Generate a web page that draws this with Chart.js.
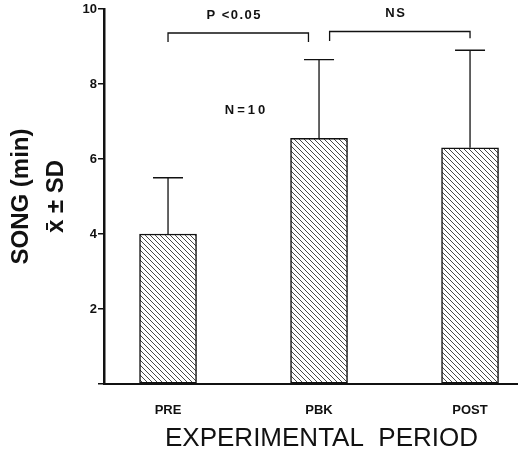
<!DOCTYPE html>
<html>
<head>
<meta charset="utf-8">
<script src="https://cdn.jsdelivr.net/npm/chart.js@4.4.0/dist/chart.umd.min.js"></script>
<style>
  html, body { margin: 0; padding: 0; background: #fff; }
  #wrap { width: 526px; height: 456px; }
</style>
</head>
<body>
<div id="wrap"><canvas id="myChart" width="526" height="456"></canvas></div>
<script>
// data
const periods = ['PRE', 'PBK', 'POST'];
const songMean = [4.0, 6.55, 6.3];
const songSD = [1.5, 2.1, 2.6];
const yTicks = [2, 4, 6, 8, 10];
const comparisons = [
	{from: 1, to: 1.93, top: 9.36, legL: 9.12, legR: 9.12, label: 'P <0.05'},
	{from: 2.07, to: 3, top: 9.4, legL: 9.15, legR: 9.22, label: 'NS'}
];
const sampleNote = 'N=10';
const xTitle = 'EXPERIMENTAL  PERIOD';

// diagonal hatch (\\\)
function hatch() {
	const s = 5;
	const c = document.createElement('canvas');
	c.width = s; c.height = s;
	const g = c.getContext('2d');
	g.fillStyle = '#fff';
	g.fillRect(0, 0, s, s);
	g.strokeStyle = '#333';
	g.lineWidth = 0.9;
	g.beginPath();
	g.moveTo(-1, -1); g.lineTo(s + 1, s + 1);
	g.moveTo(-1, s - 1); g.lineTo(1, s + 1);
	g.moveTo(s - 1, -1); g.lineTo(s + 1, 1);
	g.stroke();
	return g.createPattern(c, 'repeat');
}

const extras = {
	id: 'extras',
	afterDatasetsDraw(chart) {
		const ctx = chart.ctx;
		const xs = chart.scales.x, ys = chart.scales.y;
		ctx.save();
		ctx.strokeStyle = '#111';
		ctx.lineWidth = 1.3;
		// SD bars (upper only)
		songMean.forEach((m, i) => {
			const x = xs.getPixelForValue(i + 1);
			const y0 = ys.getPixelForValue(m);
			const y1 = ys.getPixelForValue(m + songSD[i]);
			ctx.beginPath();
			ctx.moveTo(x, y0); ctx.lineTo(x, y1);
			ctx.moveTo(x - 15, y1); ctx.lineTo(x + 15, y1);
			ctx.stroke();
		});
		// brackets
		ctx.fillStyle = '#111';
		ctx.font = 'bold 13px "Liberation Sans", Arial, sans-serif';
		ctx.letterSpacing = '1.5px';
		ctx.textAlign = 'center';
		ctx.textBaseline = 'middle';
		comparisons.forEach(c => {
			const xa = xs.getPixelForValue(c.from), xb = xs.getPixelForValue(c.to);
			const yt = ys.getPixelForValue(c.top);
			ctx.beginPath();
			ctx.moveTo(xa, ys.getPixelForValue(c.legL));
			ctx.lineTo(xa, yt);
			ctx.lineTo(xb, yt);
			ctx.lineTo(xb, ys.getPixelForValue(c.legR));
			ctx.stroke();
			ctx.fillText(c.label, (xa + xb) / 2 - 4, yt - 18);
		});
		ctx.letterSpacing = '3px';
		ctx.fillText(sampleNote, xs.getPixelForValue(1.52), ys.getPixelForValue(7.3));
		// x axis title, sits a bit right of the axis centre in the original
		ctx.letterSpacing = '0px';
		ctx.font = '26px "Liberation Sans", Arial, sans-serif';
		ctx.fillText(xTitle, (chart.chartArea.left + chart.chartArea.right) / 2 + 11, 439);
		ctx.restore();
	}
};

const myChart = document.getElementById('myChart');
let barChart = new Chart(myChart, {
	type: 'bar',
	data: {
		datasets: [{
			data: songMean.map((v, i) => ({x: i + 1, y: v})),
			backgroundColor: hatch(),
			borderColor: '#111',
			borderWidth: 1.5,
			borderSkipped: false,
			barThickness: 57
		}]
	},
	options: {
		responsive: false,
		animation: false,
		layout: {padding: {top: 9, right: 9, left: 0, bottom: 0}},
		plugins: {legend: {display: false}, tooltip: {enabled: false}},
		scales: {
			x: {
				type: 'linear',
				offset: false,
				min: 0.576,
				max: 3.311,
				afterFit: s => { s.height = 72; },
				afterBuildTicks: s => { s.ticks = periods.map((p, i) => ({value: i + 1})); },
				grid: {display: false},
				border: {display: true, color: '#111', width: 2},
				ticks: {
					callback: v => periods[v - 1],
					color: '#111',
					padding: 11,
					maxRotation: 0,
					font: {family: '"Liberation Sans", Arial, sans-serif', size: 13, weight: 'bold'}
				}
			},
			y: {
				min: 0,
				max: 10,
				afterFit: s => { s.width = 104; },
				afterBuildTicks: s => { s.ticks = [0].concat(yTicks).map(v => ({value: v})); },
				grid: {drawOnChartArea: false, drawTicks: true, tickLength: 6, color: '#111', lineWidth: 1.5},
				border: {display: true, color: '#111', width: 2.5},
				ticks: {
					callback: v => (v === 0 ? '' : v),
					color: '#111',
					padding: 1,
					font: {family: '"Liberation Sans", Arial, sans-serif', size: 13, weight: 'bold'}
				},
				title: {
					display: true,
					text: ['SONG (min)', 'x\u0304 \u00b1 SD'],
					color: '#111',
					padding: {top: 4},
					font: {family: '"Liberation Sans", Arial, sans-serif', size: 24, weight: 'bold', lineHeight: 1.46}
				}
			}
		}
	},
	plugins: [extras]
});
</script>
</body>
</html>
